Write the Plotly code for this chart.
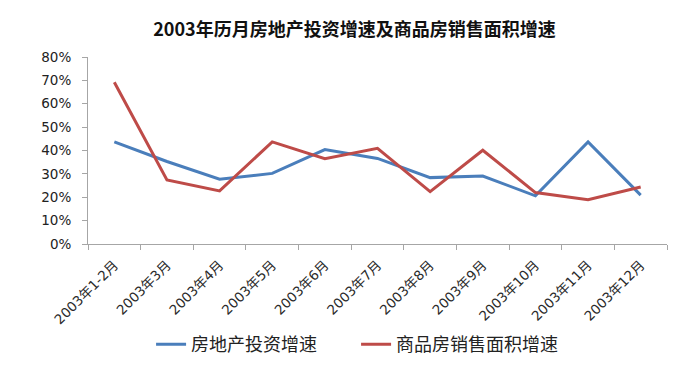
import plotly.graph_objects as go

categories = ["2003年1-2月", "2003年3月", "2003年4月", "2003年5月", "2003年6月", "2003年7月",
              "2003年8月", "2003年9月", "2003年10月", "2003年11月", "2003年12月"]
invest_growth = [0.437, 0.353, 0.277, 0.302, 0.404, 0.366, 0.284, 0.291, 0.206, 0.437, 0.209]
sales_area_growth = [0.692, 0.274, 0.227, 0.437, 0.365, 0.409, 0.224, 0.401, 0.220, 0.189, 0.244]
series_names = ["房地产投资增速", "商品房销售面积增速"]
y_ticks = [0, 0.1, 0.2, 0.3, 0.4, 0.5, 0.6, 0.7, 0.8]

fig = go.Figure()
fig.add_trace(go.Scatter(x=categories, y=invest_growth, name=series_names[0], mode="lines",
                         line=dict(color="#4a7ebb", width=3)))
fig.add_trace(go.Scatter(x=categories, y=sales_area_growth, name=series_names[1], mode="lines",
                         line=dict(color="#be4b48", width=3)))

fig.update_layout(
    width=695, height=373,
    margin=dict(l=88, r=28, t=57, b=128),
    paper_bgcolor="white", plot_bgcolor="white",
    font=dict(family="Noto Sans CJK SC, sans-serif", color="#222"),
    title=dict(text="<b>2003年历月房地产投资增速及商品房销售面积增速</b>",
               x=0.51, xanchor="center", y=1 - 30 / 373, yanchor="middle",
               font=dict(size=18, color="#111")),
    showlegend=True,
    legend=dict(orientation="h", x=0.463, xanchor="center", y=-0.53, yanchor="middle",
                font=dict(size=18, color="#222"), tracegroupgap=0,
                entrywidth=160, entrywidthmode="pixels"),
    xaxis=dict(type="category", range=[-0.5, 10.5], showgrid=False,
               showline=True, linecolor="#a6a6a6", linewidth=1,
               ticks="outside", tickson="boundaries", ticklen=5, tickcolor="#a6a6a6",
               tickangle=-45, ticklabelstandoff=7,
               tickfont=dict(size=13.5, family="DejaVu Sans, Noto Sans CJK SC, sans-serif", color="#2a2a2a")),
    yaxis=dict(range=[0, 0.8], tickvals=y_ticks, tickformat=".0%", showgrid=False,
               showline=True, linecolor="#a6a6a6", linewidth=1,
               ticks="outside", ticklen=5, tickcolor="#a6a6a6", ticklabelstandoff=8,
               tickfont=dict(size=13.5, family="DejaVu Sans, sans-serif", color="#222"), zeroline=False),
)

fig.write_html("out.html")
